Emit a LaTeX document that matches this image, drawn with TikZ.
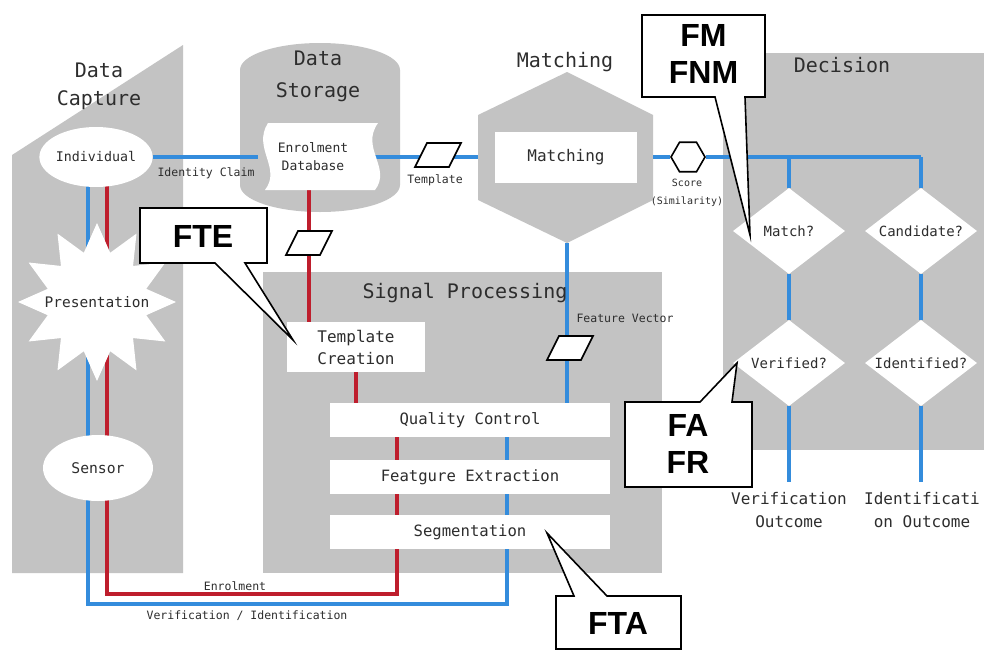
\documentclass[tikz,border=0pt]{standalone}
\usepackage{fontspec}
\setmainfont{DejaVu Sans Mono}
\newfontfamily\callfont{Liberation Sans}
\usetikzlibrary{shapes.geometric}
\pgfdeclarelayer{bg}
\pgfdeclarelayer{lines}
\pgfsetlayers{bg,lines,main}
\definecolor{panelgray}{RGB}{195,195,195}
\definecolor{lineblue}{RGB}{52,140,220}
\definecolor{linered}{RGB}{190,30,45}
\definecolor{txt}{RGB}{45,45,45}
\begin{document}
\begin{tikzpicture}[x=1pt,y=1pt,
 hdtext/.style={font=\fontsize{20}{28}\selectfont, text=txt, align=center},
 tntext/.style={font=\fontsize{11.5}{13}\selectfont, text=txt, align=center},
 wbox/.style={fill=white, inner sep=0pt, text=txt, font=\fontsize{15.6}{22}\selectfont},
 bl/.style={draw=lineblue, line width=4.5pt},
 rl/.style={draw=linered, line width=4.5pt},
 calloutbox/.style={draw=black, line width=1.6pt, fill=white, line join=miter},
 calltext/.style={font=\callfont\bfseries\fontsize{32}{37}\selectfont, align=center},
 para/.pic={\filldraw[draw=black, line width=1.6pt, fill=white] (-23,-12) -- (11,-12) -- (23,12) -- (-11,12) -- cycle;},
 dia/.style={diamond, fill=white, inner sep=0pt, minimum width=112pt, minimum height=86pt, font=\fontsize{14}{16}\selectfont, text=txt},
]
\useasboundingbox (0,0) rectangle (984,-651);

% panels
\begin{pgfonlayer}{bg}
\fill[panelgray] (12,-155) -- (183,-45) -- (183,-573) -- (12,-573) -- cycle;
\fill[panelgray] (263,-272) rectangle (662,-573);
\fill[panelgray] (723,-53) rectangle (984,-450);
\fill[panelgray] (240,-70) -- (240,-185) arc[start angle=180,end angle=360,x radius=80pt,y radius=27pt] -- (400,-70) arc[start angle=0,end angle=180,x radius=80pt,y radius=27pt] -- cycle;
\fill[panelgray] (567,-72) -- (653,-115) -- (653,-200) -- (567,-243) -- (478,-200) -- (478,-115) -- cycle;
\end{pgfonlayer}

% headers
\node[hdtext] (dcap) at (99,-86) {Data\\Capture};
\node[hdtext, font=\fontsize{20}{32}\selectfont] (dsto) at (318,-76) {Data\\Storage};
\node[hdtext] (mhead) at (565,-62) {Matching};
\node[hdtext] (dhead) at (842,-65) {Decision};
\node[hdtext] (sphead) at (465,-293) {Signal Processing};

% data capture
\node[ellipse, fill=white, minimum width=106pt, minimum height=60pt, inner sep=0pt, text=txt, font=\fontsize{13.3}{15}\selectfont] (ind) at (96,-157) {Individual};
\node[star, star points=12, star point ratio=1.55, fill=white, minimum size=158pt, inner sep=0pt, text=txt, font=\fontsize{14.5}{16}\selectfont] (pres) at (97,-302) {\makebox[0pt]{Presentation}};
\node[ellipse, fill=white, minimum width=110pt, minimum height=66pt, inner sep=0pt, text=txt, font=\fontsize{14.7}{16}\selectfont] (sen) at (98,-468) {Sensor};

% data storage
\fill[white] (268,-123) -- (378,-123) .. controls (360,-148) and (392,-168) .. (375,-190) -- (265,-190) .. controls (282,-168) and (252,-148) .. (268,-123) -- cycle;
\node[font=\fontsize{13}{18}\selectfont, text=txt, align=center, minimum width=110pt, minimum height=66pt, inner sep=0pt] (db) at (313,-157) {Enrolment\\Database};

% matching
\node[wbox, minimum width=142pt, minimum height=51pt, font=\fontsize{16}{18}\selectfont] (mbox) at (566,-157) {Matching};
\node[regular polygon, regular polygon sides=6, draw=black, line width=1.6pt, fill=white, minimum size=34pt, inner sep=0pt] (score) at (688,-157) {};
\node[font=\fontsize{10}{18}\selectfont, text=txt, align=center] (scl) at (687,-193) {Score\\(Similarity)};

% signal processing
\node[wbox, minimum width=138pt, minimum height=50pt, font=\fontsize{16}{22}\selectfont, align=left] (tc) at (356,-347) {Template\\Creation};
\node[wbox, minimum width=280pt, minimum height=34pt] (qc) at (470,-420) {Quality Control};
\node[wbox, minimum width=280pt, minimum height=34pt] (fe) at (470,-477) {Featgure Extraction};
\node[wbox, minimum width=280pt, minimum height=34pt] (seg) at (470,-532) {Segmentation};

% decision
\node[dia] (mq) at (789,-231) {\makebox[0pt]{Match?}};
\node[dia] (cq) at (921,-231) {\makebox[0pt]{Candidate?}};
\node[dia] (vq) at (789,-363) {\makebox[0pt]{Verified?}};
\node[dia] (iq) at (921,-363) {\makebox[0pt]{Identified?}};
\node[font=\fontsize{16}{23}\selectfont, text=txt, align=center, anchor=north, inner sep=4pt] (vout) at (789,-488) {Verification\\Outcome};
\node[font=\fontsize{16}{23}\selectfont, text=txt, align=center, anchor=north, inner sep=4pt] (iout) at (922,-488) {Identificati\\on Outcome};

% small labels
\node[tntext] (icl) at (206,-173) {Identity Claim};
\node[tntext] (tpl) at (435,-180) {Template};
\node[tntext] (fvl) at (625,-318) {Feature Vector};
\node[tntext] (enl) at (235,-586) {Enrolment};
\node[tntext] (vil) at (247,-616) {Verification / Identification};

% data items
\pic at (438,-155) {para};
\pic at (309,-243) {para};
\pic at (570,-348) {para};

% connectors
\begin{pgfonlayer}{lines}
\coordinate (matchL) at (478,-157);
\coordinate (matchR) at (653,-157);
\coordinate (matchB) at (567,-243);
\coordinate (dj) at (921,-157);
\coordinate (vb1) at (507,-604);
\coordinate (vb2) at (567,-420);
\coordinate (vr1) at (397,-594);
\coordinate (vr2) at (356,-420);
\coordinate (tcr) at ([xshift=-47pt]tc.north);
\draw[bl] (ind.east) -- (ind.east -| db.west);
\draw[bl] (db.east) -- (matchL);
\draw[bl] (matchR) -- (score.west);
\draw[bl] (score.east) -- (dj);
\draw[bl] (mq.north |- dj) -- (mq.north);
\draw[bl] (dj) -- (cq.north);
\draw[bl] (mq.south) -- (vq.north);
\draw[bl] (cq.south) -- (iq.north);
\draw[bl] (vq.south) -- ([yshift=6pt]vq.south |- vout.north);
\draw[bl] (iq.south) -- ([yshift=6pt]iq.south |- iout.north);
\draw[bl] ([xshift=-8pt]ind.center) |- (vb1) |- (vb2) -- (matchB);
\draw[rl] ([xshift=11pt]ind.center) |- (vr1) |- (vr2) -- (tc.south);
\draw[rl] (tcr) -- (tcr |- db.south);
\end{pgfonlayer}

% callouts
\filldraw[calloutbox] (642,-15) -- (765,-15) -- (765,-97) -- (745,-97) -- (750,-235) -- (715,-97) -- (642,-97) -- cycle;
\node[calltext] (fm) at (703.5,-54) {FM\\FNM};
\filldraw[calloutbox] (140,-208) -- (267,-208) -- (267,-263) -- (245,-263) -- (293,-340) -- (215,-263) -- (140,-263) -- cycle;
\node[calltext] (fte) at (203,-236) {FTE};
\filldraw[calloutbox] (625,-402) -- (700,-402) -- (737,-363) -- (732,-402) -- (752,-402) -- (752,-487) -- (625,-487) -- cycle;
\node[calltext] (fa) at (688,-444) {FA\\FR};
\filldraw[calloutbox] (556,-596) -- (574,-596) -- (547,-533) -- (607,-596) -- (681,-596) -- (681,-649) -- (556,-649) -- cycle;
\node[calltext] (fta) at (618,-623) {FTA};
\end{tikzpicture}
\end{document}
